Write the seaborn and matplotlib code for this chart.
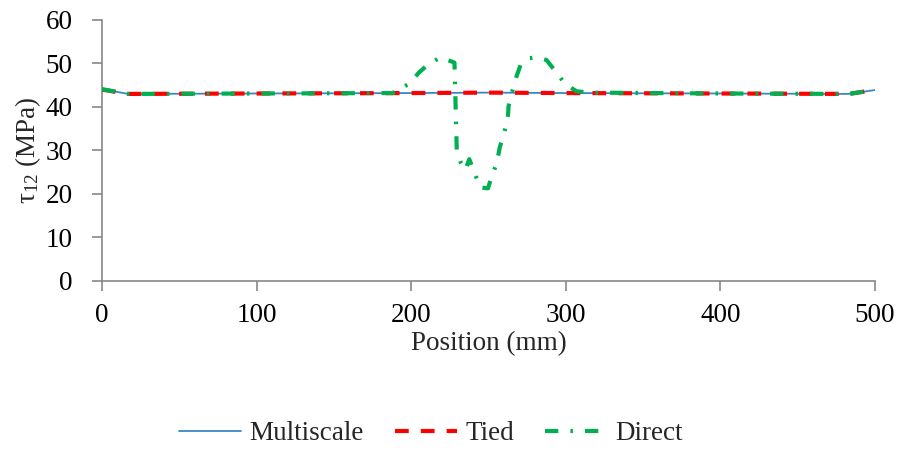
import matplotlib
matplotlib.use("Agg")
import matplotlib.pyplot as plt
import seaborn as sns
import pandas as pd

# Shear stress tau_12 along the specimen for the three modelling approaches
multiscale_pos = [0, 17, 100, 200, 250, 300, 400, 483, 500]
multiscale_tau = [44.1, 43.0, 43.1, 43.2, 43.3, 43.2, 43.1, 43.0, 43.9]

tied_pos = [0, 17, 100, 200, 250, 300, 400, 483, 500]
tied_tau = [44.0, 43.0, 43.1, 43.2, 43.3, 43.2, 43.1, 43.0, 43.9]

direct_pos = [0, 17, 100, 188, 199, 205, 211, 219, 228, 229.5, 232, 235, 237.6,
              241.5, 244.5, 249.7, 252, 255.3, 257.3, 260, 262.5, 263, 265, 267.6,
              270.8, 276, 282, 287.5, 293.6, 299.5, 307, 316, 400, 483, 500]
direct_tau = [44.1, 43.0, 43.1, 43.2, 45.4, 47.9, 49.8, 51.4, 50.2, 30.0, 27.3, 25.5, 28.0,
              24.4, 21.5, 21.3, 24.0, 27.0, 30.7, 33.9, 37.4, 40.2, 43.1, 46.5,
              49.7, 51.2, 51.4, 50.8, 48.1, 45.3, 43.6, 43.3, 43.1, 43.0, 43.9]

x_ticks = [0, 100, 200, 300, 400, 500]
y_ticks = [0, 10, 20, 30, 40, 50, 60]

FS = 19.5

sns.set_theme(style="white")
plt.rcParams["font.family"] = ["Liberation Serif", "DejaVu Serif"]
plt.rcParams["mathtext.fontset"] = "custom"
plt.rcParams["mathtext.rm"] = "Liberation Serif"
plt.rcParams["mathtext.it"] = "Liberation Serif:italic"

fig = plt.figure(figsize=(9, 4.5), dpi=100)
ax = fig.add_axes([0.1133, 0.3756, 0.8589, 0.58])

ms = pd.DataFrame({"pos": multiscale_pos, "tau": multiscale_tau})
td = pd.DataFrame({"pos": tied_pos, "tau": tied_tau})
dr = pd.DataFrame({"pos": direct_pos, "tau": direct_tau})

sns.lineplot(data=ms, x="pos", y="tau", ax=ax, color="#3A87C8", lw=1.3,
             label="Multiscale", zorder=2)
sns.lineplot(data=td, x="pos", y="tau", ax=ax, color="#FF0000", lw=3.0,
             linestyle=(0, (3.3, 2.9)), label="Tied", zorder=3)
sns.lineplot(data=dr, x="pos", y="tau", ax=ax, color="#00B050", lw=3.0,
             linestyle=(0, (3.2, 2.9, 0.6, 2.9)), label="Direct", zorder=4)

ax.set_xlim(0, 500)
ax.set_ylim(0, 60)
ax.set_xticks(x_ticks)
ax.set_yticks(y_ticks)
ax.tick_params(axis="both", labelsize=FS, colors="#888888", labelcolor="black",
               direction="out", length=7, width=1.2, left=True, bottom=True)
ax.tick_params(axis="y", pad=14)
ax.tick_params(axis="x", pad=9)
for side in ["top", "right"]:
    ax.spines[side].set_visible(False)
for side in ["left", "bottom"]:
    ax.spines[side].set_color("#888888")
    ax.spines[side].set_linewidth(1.2)

ax.set_xlabel("Position (mm)", fontsize=FS, labelpad=2)
ax.set_ylabel(r"τ$_{\mathrm{12}}$ (MPa)", fontsize=FS)
ax.yaxis.set_label_coords(-0.076, 0.5)

ax.legend(loc="center", bbox_to_anchor=(0.479, 0.036), bbox_transform=fig.transFigure,
          ncol=3, frameon=False, fontsize=FS, handlelength=2.3,
          columnspacing=1.15, handletextpad=0.3)

fig.savefig("out.png", dpi=100)
